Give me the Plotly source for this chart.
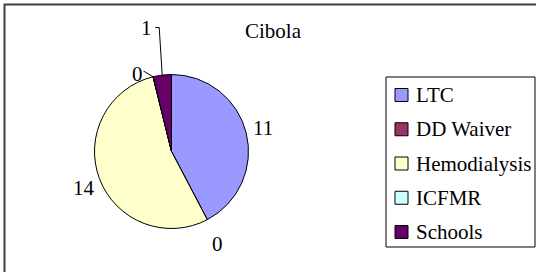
import math
import plotly.graph_objects as go

# ---- data ----
categories = ["LTC", "DD Waiver", "Hemodialysis", "ICFMR", "Schools"]
values = [11, 0, 14, 0, 1]
colors = ["#9999FF", "#993366", "#FFFFCC", "#CCFFFF", "#660066"]
title_text = "Cibola"

# ---- layout helpers (pixel -> paper) ----
W, H = 536, 272
FONT = "Liberation Serif, 'Times New Roman', serif"
FS = 21


def px(x):
    return x / W


def py(y):
    return 1 - y / H


CX, CY, R = 171.5, 151.5, 77
total = sum(values)


def edge_point(idx, frac=0.5):
    ang = (sum(values[:idx]) + frac * values[idx]) / total * 2 * math.pi
    return CX + R * math.sin(ang), CY - R * math.cos(ang)


fig = go.Figure()
fig.add_trace(go.Pie(
    labels=categories,
    values=values,
    sort=False,
    direction="clockwise",
    rotation=0,
    marker=dict(colors=colors, line=dict(color="black", width=1)),
    textinfo="none",
    domain=dict(x=[px(CX - R), px(CX + R)], y=[py(CY + R), py(CY - R)]),
    showlegend=False,
    hoverinfo="label+value",
))

shapes = []
annotations = []

# chart frame (right/bottom edges fall outside the picture)
shapes.append(dict(type="rect", xref="paper", yref="paper",
                   x0=px(4.5), x1=px(545), y0=py(285), y1=py(4.5),
                   line=dict(color="#404040", width=2)))

# title
annotations.append(dict(text=title_text, xref="paper", yref="paper",
                        x=px(273.5), y=py(30.5), xanchor="center", yanchor="middle",
                        showarrow=False, font=dict(family=FONT, size=FS, color="black")))

# value labels, offset (px) from each slice's outer edge midpoint
label_offsets = [(16.7, -5), (10.2, 24.3), (-15.5, 9.2), (-15.6, -2.7), (-15.5, -47.5)]
for idx, (dx, dy) in enumerate(label_offsets):
    ex, ey = edge_point(idx)
    lx, ly = ex + dx, ey + dy
    annotations.append(dict(text=str(values[idx]), xref="paper", yref="paper",
                            x=px(lx), y=py(ly), xanchor="center", yanchor="middle",
                            showarrow=False, font=dict(family=FONT, size=FS, color="black")))
    if idx == 4:
        path = "M {},{} L {},{} L {},{}".format(
            px(ex - 7), py(ly), px(ex - 3), py(ly), px(ex), py(ey))
        shapes.append(dict(type="path", xref="paper", yref="paper", path=path,
                           line=dict(color="black", width=1)))
    elif idx == 3:
        path = "M {},{} L {},{}".format(px(lx + 6), py(ly - 3), px(ex), py(ey))
        shapes.append(dict(type="path", xref="paper", yref="paper", path=path,
                           line=dict(color="black", width=1)))

# legend box
LX0, LY0, LX1, LY1 = 386, 77, 535, 247
shapes.append(dict(type="rect", xref="paper", yref="paper",
                   x0=px(LX0), x1=px(LX1), y0=py(LY1), y1=py(LY0),
                   line=dict(color="black", width=1), fillcolor="white"))
for i, (cat, col) in enumerate(zip(categories, colors)):
    yc = 95 + i * 34.25
    shapes.append(dict(type="rect", xref="paper", yref="paper",
                       x0=px(395), x1=px(408), y0=py(yc + 6.5), y1=py(yc - 6.5),
                       line=dict(color="black", width=1), fillcolor=col))
    annotations.append(dict(text=cat, xref="paper", yref="paper",
                            x=px(414), y=py(yc), xanchor="left", yanchor="middle",
                            showarrow=False, font=dict(family=FONT, size=FS, color="black")))

fig.update_layout(
    width=W, height=H,
    margin=dict(l=0, r=0, t=0, b=0),
    paper_bgcolor="white",
    plot_bgcolor="white",
    showlegend=False,
    shapes=shapes,
    annotations=annotations,
    font=dict(family=FONT, size=FS, color="black"),
)

fig.write_html(
    "out.html",
    config={"displayModeBar": False},
    post_script="document.body.style.margin='0px';document.body.style.padding='0px';",
)
